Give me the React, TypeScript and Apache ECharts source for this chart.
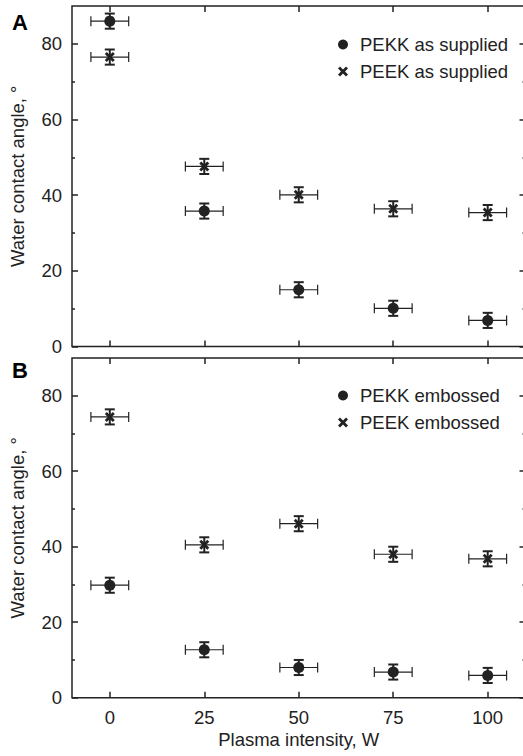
import React, { useEffect, useRef } from "react";
import * as echarts from "echarts";

const plasmaIntensity = [0, 25, 50, 75, 100];
const xErr = [5, 5, 5, 5, 5];
const pekkSupplied = [86.0, 35.8, 15.0, 10.1, 6.9];
const pekkSuppliedErr = [2, 2, 2, 2, 2];
const peekSupplied = [76.5, 47.6, 40.1, 36.4, 35.4];
const peekSuppliedErr = [2, 2, 2, 2, 2];
const pekkEmbossed = [29.8, 12.7, 8.0, 6.8, 5.9];
const pekkEmbossedErr = [2, 2, 2, 2, 2];
const peekEmbossed = [74.4, 40.5, 46.1, 38.0, 36.8];
const peekEmbossedErr = [2, 2, 2, 2, 2];
const xTicks = [0, 25, 50, 75, 100];
const yTicks = [0, 20, 40, 60, 80];
const yMinorTicks = [10, 30, 50, 70];

const INK = "#222";
const FONT = "'Liberation Sans', Arial, Helvetica, sans-serif";
const CROSS = "path://M2,0 L5,3 L8,0 L10,2 L7,5 L10,8 L8,10 L5,7 L2,10 L0,8 L3,5 L0,2 Z";

function errData(vals: number[], yerr: number[]) {
  return plasmaIntensity.map((x, i) => [x, vals[i], yerr[i], xErr[i]]);
}
function ptData(vals: number[]) {
  return plasmaIntensity.map((x, i) => [x, vals[i]]);
}

const renderErr = (params: any, api: any) => {
  const x = api.value(0), y = api.value(1), ye = api.value(2), xe = api.value(3);
  const pL = api.coord([x - xe, y]);
  const pR = api.coord([x + xe, y]);
  const pT = api.coord([x, y + ye]);
  const pB = api.coord([x, y - ye]);
  const thin = { stroke: INK, lineWidth: 1.2 };
  const bold = { stroke: INK, lineWidth: 2 };
  const c = 5;
  return {
    type: "group",
    children: [
      { type: "line", shape: { x1: pL[0], y1: pL[1], x2: pR[0], y2: pR[1] }, style: thin },
      { type: "line", shape: { x1: pL[0], y1: pL[1] - c, x2: pL[0], y2: pL[1] + c }, style: thin },
      { type: "line", shape: { x1: pR[0], y1: pR[1] - c, x2: pR[0], y2: pR[1] + c }, style: thin },
      { type: "line", shape: { x1: pT[0], y1: pT[1], x2: pB[0], y2: pB[1] }, style: bold },
      { type: "line", shape: { x1: pT[0] - c, y1: pT[1], x2: pT[0] + c, y2: pT[1] }, style: bold },
      { type: "line", shape: { x1: pB[0] - c, y1: pB[1], x2: pB[0] + c, y2: pB[1] }, style: bold },
    ],
  };
};

function tick(len: number, values: number[]) {
  return { show: true, inside: true, length: len, customValues: values.slice(), lineStyle: { color: INK, width: 1.5 } };
}

function xAxes(gridIndex: number, showLabels: boolean) {
  const mk = () => ({
    type: "value",
    gridIndex,
    min: -10,
    max: 110,
    splitLine: { show: false },
    axisLine: { show: false, onZero: false },
    axisTick: tick(6, xTicks),
  });
  return [
    {
      ...mk(),
      position: "bottom",
      axisLabel: showLabels
        ? { show: true, customValues: xTicks.slice(), color: INK, fontSize: 18.5, fontFamily: FONT, margin: 10 }
        : { show: false },
      name: showLabels ? "Plasma intensity, W" : "",
      nameLocation: "middle",
      nameGap: 32,
      nameTextStyle: { color: INK, fontSize: 18.5, fontFamily: FONT },
    },
    { ...mk(), position: "top", axisLabel: { show: false } },
  ];
}

function yAxes(gridIndex: number) {
  const base = () => ({
    type: "value",
    gridIndex,
    min: 0,
    max: 90,
    splitLine: { show: false },
    axisLine: { show: false, onZero: false },
  });
  return [
    {
      ...base(),
      position: "left",
      axisTick: tick(6, yTicks),
      axisLabel: { show: true, customValues: yTicks.slice(), color: INK, fontSize: 18.5, fontFamily: FONT, margin: 10 },
      name: "Water contact angle, °",
      nameLocation: "middle",
      nameGap: 45,
      nameTextStyle: { color: INK, fontSize: 18.5, fontFamily: FONT },
    },
    { ...base(), position: "left", axisLabel: { show: false }, axisTick: tick(3, yMinorTicks) },
    { ...base(), position: "right", axisLabel: { show: false }, axisTick: tick(6, yTicks) },
    { ...base(), position: "right", axisLabel: { show: false }, axisTick: tick(3, yMinorTicks) },
  ];
}

function legendItem(name: string, top: number) {
  return {
    data: [name],
    left: 338,
    top,
    padding: 0,
    itemWidth: 10,
    itemHeight: 10,
    selectedMode: false,
    textStyle: { color: INK, fontSize: 18.5, fontFamily: FONT, lineHeight: 18, padding: [0, 0, 0, 7] },
  };
}

export default function App() {
  const ref = useRef<HTMLDivElement>(null);
  useEffect(() => {
    if (!ref.current) return;
    const chart = echarts.init(ref.current, undefined, { renderer: "svg" });
    const scatter = (name: string, vals: number[], symbol: string, size: number, xi: number, yi: number) => ({
      type: "scatter",
      name,
      xAxisIndex: xi,
      yAxisIndex: yi,
      data: ptData(vals),
      symbol,
      symbolSize: size,
      itemStyle: { color: INK, opacity: 1 },
      z: 5,
    });
    const err = (vals: number[], e: number[], xi: number, yi: number) => ({
      type: "custom",
      xAxisIndex: xi,
      yAxisIndex: yi,
      data: errData(vals, e),
      encode: { x: 0, y: 1 },
      renderItem: renderErr,
      z: 4,
    });
    const gridBase = {
      left: 72,
      width: 453.5,
      show: true,
      borderColor: INK,
      borderWidth: 1.5,
      backgroundColor: "transparent",
      outerBoundsMode: "none",
      containLabel: false,
    };
    chart.setOption({
      animation: false,
      backgroundColor: "#fff",
      grid: [
        { ...gridBase, top: 6, height: 340.5 },
        { ...gridBase, top: 358, height: 339.7 },
      ],
      xAxis: [...xAxes(0, false), ...xAxes(1, true)],
      yAxis: [...yAxes(0), ...yAxes(1)],
      legend: [
        legendItem("PEKK as supplied", 35),
        legendItem("PEEK as supplied", 62),
        legendItem("PEKK embossed", 386),
        legendItem("PEEK embossed", 413),
      ],
      graphic: [
        { type: "text", left: 12, top: 11, style: { text: "A", fill: "#000", font: `bold 22px ${FONT}` } },
        { type: "text", left: 12, top: 359, style: { text: "B", fill: "#000", font: `bold 22px ${FONT}` } },
      ],
      series: [
        err(pekkSupplied, pekkSuppliedErr, 0, 0),
        err(peekSupplied, peekSuppliedErr, 0, 0),
        scatter("PEKK as supplied", pekkSupplied, "circle", 11, 0, 0),
        scatter("PEEK as supplied", peekSupplied, CROSS, 10, 0, 0),
        err(pekkEmbossed, pekkEmbossedErr, 2, 4),
        err(peekEmbossed, peekEmbossedErr, 2, 4),
        scatter("PEKK embossed", pekkEmbossed, "circle", 11, 2, 4),
        scatter("PEEK embossed", peekEmbossed, CROSS, 10, 2, 4),
      ],
    });
    return () => chart.dispose();
  }, []);
  return (
    <div
      ref={ref}
      style={{ position: "absolute", left: 0, top: 0, width: 523, height: 756, background: "#fff" }}
    />
  );
}
